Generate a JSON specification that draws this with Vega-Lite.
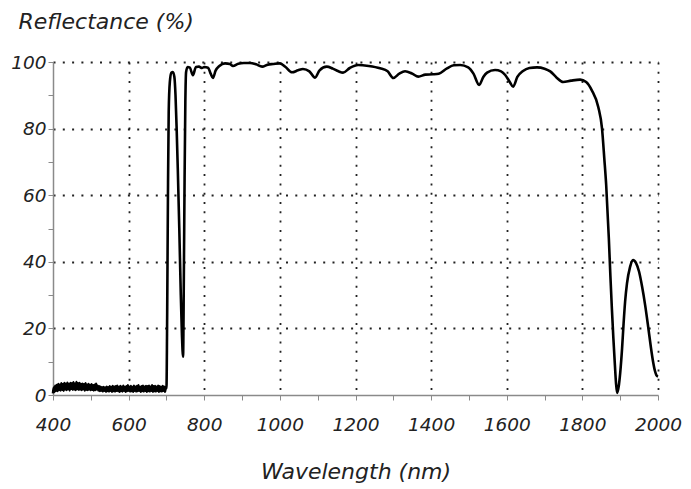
{
  "$schema": "https://vega.github.io/schema/vega-lite/v6.json",
  "width": 605,
  "height": 333,
  "autosize": {"type": "none"},
  "padding": {"left": 53, "top": 62, "right": 33, "bottom": 94},
  "background": "white",
  "config": {
    "view": {"stroke": null},
    "axis": {
      "domainColor": "#8a8a8a",
      "domainWidth": 1.5,
      "tickColor": "#8a8a8a",
      "tickWidth": 1,
      "tickSize": 5,
      "gridColor": "#222222",
      "gridDash": [2, 7.3],
      "gridWidth": 1.8,
      "labelFont": "DejaVu Sans",
      "labelFontStyle": "italic",
      "labelFontSize": 18.5,
      "labelColor": "#222222",
      "titleFont": "DejaVu Sans",
      "titleFontStyle": "italic",
      "titleFontWeight": "normal",
      "titleFontSize": 22,
      "titleColor": "#222222"
    }
  },
  "data": {
    "values": [
      {"wl": 400, "r": 0.5}, {"wl": 402, "r": 2.2}, {"wl": 404, "r": 1.0}, {"wl": 406, "r": 2.8}, {"wl": 408, "r": 1.3},
      {"wl": 410, "r": 3.0}, {"wl": 412, "r": 1.2}, {"wl": 414, "r": 3.3}, {"wl": 416, "r": 1.5}, {"wl": 418, "r": 3.1},
      {"wl": 420, "r": 1.4}, {"wl": 422, "r": 3.5}, {"wl": 424, "r": 1.6}, {"wl": 426, "r": 3.2}, {"wl": 428, "r": 1.3},
      {"wl": 430, "r": 3.6}, {"wl": 432, "r": 1.7}, {"wl": 434, "r": 3.4}, {"wl": 436, "r": 1.5}, {"wl": 438, "r": 3.7},
      {"wl": 440, "r": 1.8}, {"wl": 442, "r": 3.3}, {"wl": 444, "r": 1.4}, {"wl": 446, "r": 3.6}, {"wl": 448, "r": 1.9},
      {"wl": 450, "r": 3.5}, {"wl": 452, "r": 1.6}, {"wl": 454, "r": 3.8}, {"wl": 456, "r": 1.7}, {"wl": 458, "r": 3.4},
      {"wl": 460, "r": 1.5}, {"wl": 462, "r": 3.9}, {"wl": 464, "r": 1.8}, {"wl": 466, "r": 3.5}, {"wl": 468, "r": 1.6},
      {"wl": 470, "r": 3.6}, {"wl": 472, "r": 1.7}, {"wl": 474, "r": 3.3}, {"wl": 476, "r": 1.5}, {"wl": 478, "r": 3.4},
      {"wl": 480, "r": 1.8}, {"wl": 482, "r": 3.2}, {"wl": 484, "r": 1.4}, {"wl": 486, "r": 3.5}, {"wl": 488, "r": 1.6},
      {"wl": 490, "r": 3.1}, {"wl": 492, "r": 1.5}, {"wl": 494, "r": 3.3}, {"wl": 496, "r": 1.7}, {"wl": 498, "r": 3.0},
      {"wl": 500, "r": 1.5}, {"wl": 502, "r": 3.2}, {"wl": 504, "r": 1.6}, {"wl": 506, "r": 2.9}, {"wl": 508, "r": 1.4},
      {"wl": 510, "r": 3.1}, {"wl": 512, "r": 1.5}, {"wl": 514, "r": 3.4}, {"wl": 516, "r": 1.7}, {"wl": 518, "r": 2.8},
      {"wl": 520, "r": 1.4}, {"wl": 522, "r": 2.6}, {"wl": 524, "r": 1.2}, {"wl": 526, "r": 2.5}, {"wl": 528, "r": 1.3},
      {"wl": 530, "r": 2.3}, {"wl": 532, "r": 1.1}, {"wl": 534, "r": 2.4}, {"wl": 536, "r": 1.3}, {"wl": 538, "r": 2.2},
      {"wl": 540, "r": 1.0}, {"wl": 542, "r": 2.5}, {"wl": 544, "r": 1.2}, {"wl": 546, "r": 2.3}, {"wl": 548, "r": 1.1},
      {"wl": 550, "r": 2.6}, {"wl": 552, "r": 1.3}, {"wl": 554, "r": 2.4}, {"wl": 556, "r": 1.0}, {"wl": 558, "r": 2.7},
      {"wl": 560, "r": 1.2}, {"wl": 562, "r": 2.5}, {"wl": 564, "r": 1.1}, {"wl": 566, "r": 2.6}, {"wl": 568, "r": 1.3},
      {"wl": 570, "r": 2.8}, {"wl": 572, "r": 1.2}, {"wl": 574, "r": 2.4}, {"wl": 576, "r": 1.0}, {"wl": 578, "r": 2.7},
      {"wl": 580, "r": 1.2}, {"wl": 582, "r": 2.5}, {"wl": 584, "r": 1.1}, {"wl": 586, "r": 2.8}, {"wl": 588, "r": 1.3},
      {"wl": 590, "r": 2.4}, {"wl": 592, "r": 1.0}, {"wl": 594, "r": 2.6}, {"wl": 596, "r": 1.2}, {"wl": 598, "r": 2.9},
      {"wl": 600, "r": 1.3}, {"wl": 602, "r": 2.5}, {"wl": 604, "r": 1.1}, {"wl": 606, "r": 2.7}, {"wl": 608, "r": 1.2},
      {"wl": 610, "r": 2.4}, {"wl": 612, "r": 1.0}, {"wl": 614, "r": 2.8}, {"wl": 616, "r": 1.3}, {"wl": 618, "r": 2.5},
      {"wl": 620, "r": 1.1}, {"wl": 622, "r": 2.7}, {"wl": 624, "r": 1.2}, {"wl": 626, "r": 2.9}, {"wl": 628, "r": 1.3},
      {"wl": 630, "r": 2.4}, {"wl": 632, "r": 1.0}, {"wl": 634, "r": 2.6}, {"wl": 636, "r": 1.2}, {"wl": 638, "r": 2.8},
      {"wl": 640, "r": 1.1}, {"wl": 642, "r": 2.5}, {"wl": 644, "r": 1.3}, {"wl": 646, "r": 2.7}, {"wl": 648, "r": 1.0},
      {"wl": 650, "r": 2.6}, {"wl": 652, "r": 1.2}, {"wl": 654, "r": 2.8}, {"wl": 656, "r": 1.1}, {"wl": 658, "r": 2.5},
      {"wl": 660, "r": 1.3}, {"wl": 662, "r": 2.9}, {"wl": 664, "r": 1.0}, {"wl": 666, "r": 2.6}, {"wl": 668, "r": 1.2},
      {"wl": 670, "r": 2.7}, {"wl": 672, "r": 1.1}, {"wl": 674, "r": 2.5}, {"wl": 676, "r": 1.3}, {"wl": 678, "r": 2.8},
      {"wl": 680, "r": 1.0}, {"wl": 682, "r": 2.6}, {"wl": 684, "r": 1.2}, {"wl": 686, "r": 2.4}, {"wl": 688, "r": 1.1},
      {"wl": 690, "r": 2.7}, {"wl": 692, "r": 1.3}, {"wl": 694, "r": 2.5}, {"wl": 696, "r": 1.0}, {"wl": 698, "r": 2.3},
      {"wl": 700, "r": 2}, {"wl": 702, "r": 25}, {"wl": 704, "r": 60}, {"wl": 706, "r": 85}, {"wl": 709, "r": 94},
      {"wl": 713, "r": 96.8}, {"wl": 717, "r": 97}, {"wl": 721, "r": 95.5}, {"wl": 724, "r": 90}, {"wl": 727, "r": 80},
      {"wl": 730, "r": 68}, {"wl": 734, "r": 50}, {"wl": 738, "r": 30}, {"wl": 741, "r": 18}, {"wl": 744, "r": 11.5},
      {"wl": 746, "r": 35}, {"wl": 748, "r": 65}, {"wl": 750, "r": 88}, {"wl": 752, "r": 97}, {"wl": 756, "r": 98.5},
      {"wl": 762, "r": 98.3}, {"wl": 770, "r": 96}, {"wl": 778, "r": 98.5}, {"wl": 786, "r": 98.6}, {"wl": 794, "r": 98.2},
      {"wl": 800, "r": 98.5}, {"wl": 810, "r": 98.3}, {"wl": 817, "r": 96.5}, {"wl": 823, "r": 95.2}, {"wl": 830, "r": 97.4},
      {"wl": 840, "r": 98.8}, {"wl": 855, "r": 99.6}, {"wl": 868, "r": 99.4}, {"wl": 876, "r": 98.8}, {"wl": 890, "r": 99.5},
      {"wl": 905, "r": 99.7}, {"wl": 921, "r": 99.7}, {"wl": 937, "r": 99.3}, {"wl": 953, "r": 98.6}, {"wl": 968, "r": 99.2},
      {"wl": 982, "r": 99.4}, {"wl": 1000, "r": 99.6}, {"wl": 1015, "r": 98.5}, {"wl": 1032, "r": 96.9}, {"wl": 1048, "r": 97.5},
      {"wl": 1061, "r": 97.9}, {"wl": 1078, "r": 97.2}, {"wl": 1093, "r": 95.3}, {"wl": 1105, "r": 97.5}, {"wl": 1124, "r": 98.6},
      {"wl": 1140, "r": 98}, {"wl": 1155, "r": 97.2}, {"wl": 1167, "r": 96.8}, {"wl": 1185, "r": 98.2}, {"wl": 1207, "r": 99.1},
      {"wl": 1235, "r": 98.8}, {"wl": 1265, "r": 98.1}, {"wl": 1285, "r": 97.2}, {"wl": 1300, "r": 95.2}, {"wl": 1316, "r": 96.5},
      {"wl": 1331, "r": 97.2}, {"wl": 1350, "r": 96.5}, {"wl": 1366, "r": 95.6}, {"wl": 1385, "r": 96.2}, {"wl": 1405, "r": 96.3},
      {"wl": 1420, "r": 96.5}, {"wl": 1442, "r": 98.1}, {"wl": 1460, "r": 99}, {"wl": 1477, "r": 99.1}, {"wl": 1498, "r": 98.4},
      {"wl": 1512, "r": 96.5}, {"wl": 1527, "r": 93.1}, {"wl": 1538, "r": 95.5}, {"wl": 1548, "r": 96.8}, {"wl": 1569, "r": 97.6},
      {"wl": 1585, "r": 97.2}, {"wl": 1596, "r": 96.1}, {"wl": 1608, "r": 94}, {"wl": 1617, "r": 92.6}, {"wl": 1628, "r": 95.5},
      {"wl": 1643, "r": 97.3}, {"wl": 1660, "r": 98.2}, {"wl": 1680, "r": 98.4}, {"wl": 1700, "r": 98}, {"wl": 1715, "r": 97.2},
      {"wl": 1732, "r": 95.3}, {"wl": 1749, "r": 94}, {"wl": 1770, "r": 94.4}, {"wl": 1794, "r": 94.7}, {"wl": 1810, "r": 94},
      {"wl": 1825, "r": 91.5}, {"wl": 1842, "r": 86.5}, {"wl": 1852, "r": 80}, {"wl": 1858, "r": 71}, {"wl": 1863, "r": 63},
      {"wl": 1870, "r": 47}, {"wl": 1874, "r": 36}, {"wl": 1878, "r": 26}, {"wl": 1882, "r": 17}, {"wl": 1886, "r": 9},
      {"wl": 1889, "r": 3.5}, {"wl": 1892, "r": 0.6}, {"wl": 1896, "r": 2.5}, {"wl": 1900, "r": 6.6}, {"wl": 1905, "r": 14},
      {"wl": 1909, "r": 21.5}, {"wl": 1913, "r": 28}, {"wl": 1918, "r": 33.5}, {"wl": 1926, "r": 38.4}, {"wl": 1934, "r": 40.5},
      {"wl": 1942, "r": 39.6}, {"wl": 1950, "r": 37}, {"wl": 1958, "r": 32.5}, {"wl": 1966, "r": 27}, {"wl": 1974, "r": 20.5},
      {"wl": 1981, "r": 14.5}, {"wl": 1987, "r": 10}, {"wl": 1992, "r": 7.2}, {"wl": 1996, "r": 5.9}, {"wl": 2000, "r": 5.5}
    ]
  },
  "mark": {"type": "line", "color": "#000000", "strokeWidth": 2.6, "interpolate": "monotone", "strokeJoin": "round"},
  "encoding": {
    "x": {
      "field": "wl",
      "type": "quantitative",
      "scale": {"domain": [400, 2000], "nice": false, "zero": false},
      "axis": {
        "values": [400, 500, 600, 700, 800, 900, 1000, 1100, 1200, 1300, 1400, 1500, 1600, 1700, 1800, 1900, 2000],
        "format": "d",
        "labelExpr": "datum.value % 200 === 0 ? datum.label : ''",
        "labelPadding": 15,
        "labelFlush": false,
        "gridOpacity": {"condition": {"test": "datum.value % 200 === 0 && datum.value > 400", "value": 1}, "value": 0},
        "title": "Wavelength (nm)",
        "titleBaseline": "alphabetic",
        "titleY": 83,
        "titlePadding": 0
      }
    },
    "y": {
      "field": "r",
      "type": "quantitative",
      "scale": {"domain": [0, 100], "nice": false},
      "axis": {
        "values": [0, 10, 20, 30, 40, 50, 60, 70, 80, 90, 100],
        "labelExpr": "datum.value % 20 === 0 ? datum.label : ''",
        "labelPadding": 2,
        "labelFlush": false,
        "gridOpacity": {"condition": {"test": "datum.value % 20 === 0 && datum.value > 0", "value": 1}, "value": 0},
        "title": "Reflectance (%)",
        "titleAngle": 0,
        "titleAlign": "left",
        "titleBaseline": "alphabetic",
        "titleX": -35,
        "titleY": -34
      }
    }
  }
}
